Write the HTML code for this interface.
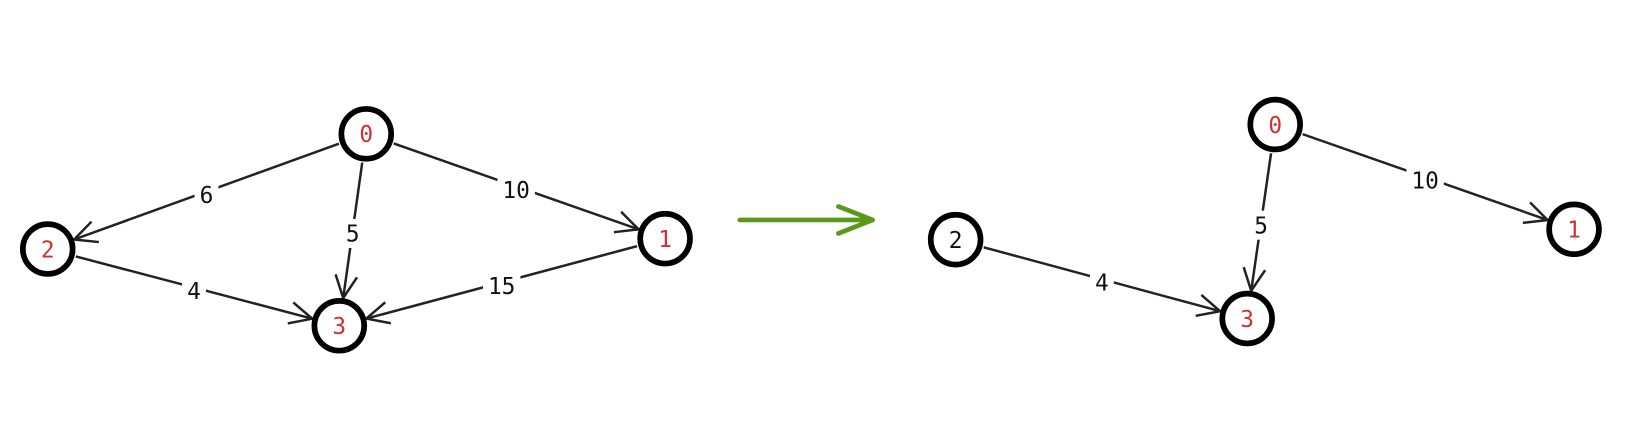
<!DOCTYPE html>
<html><head><meta charset="utf-8"><style>
html,body{margin:0;padding:0;background:#fff;}
svg{display:block;}
text{font-family:"DejaVu Sans Mono","Liberation Mono",monospace;font-size:22px;}
</style></head><body>
<svg id="chart" width="1627" height="439" viewBox="0 0 1627 439"><g id="root" transform="scale(1.0376)"></g></svg>
<script>
// Node data: id, x, y, label colour
const nodeIds = ["0","1","2","3","0","1","2","3"];
const nodeX = [353,641,46,327,1229,1517,921,1202];
const nodeY = [129,230,240,314,120,221,231,307];
const nodeColor = ["#d32f2f","#d32f2f","#d32f2f","#d32f2f","#d32f2f","#d32f2f","#111","#d32f2f"];
// Edge data: from index, to index, weight
const edgeFrom = [0,0,0,2,1,4,4,6];
const edgeTo   = [2,3,1,3,3,7,5,7];
const edgeWeight = ["6","5","10","4","15","5","10","4"];

const svg = document.getElementById('root');
const NS = 'http://www.w3.org/2000/svg';
function mk(tag, attrs){const e=document.createElementNS(NS,tag);for(const k in attrs)e.setAttribute(k,attrs[k]);svg.appendChild(e);return e;}
const R = 24;

for(let i=0;i<edgeFrom.length;i++){
  const a=edgeFrom[i], b=edgeTo[i];
  const x1=nodeX[a],y1=nodeY[a],x2=nodeX[b],y2=nodeY[b];
  const dx=x2-x1,dy=y2-y1,L=Math.hypot(dx,dy),ux=dx/L,uy=dy/L;
  const sx=x1+ux*(R+4),sy=y1+uy*(R+4),ex=x2-ux*(R+3),ey=y2-uy*(R+3);
  const line=mk('line',{x1:sx,y1:sy,x2:ex,y2:ey,stroke:'#222','stroke-width':2.4});
  
  
  const ang=Math.atan2(uy,ux), hl=24, sp=0.45;
  const p1x=ex-hl*Math.cos(ang-sp),p1y=ey-hl*Math.sin(ang-sp);
  const p2x=ex-hl*Math.cos(ang+sp),p2y=ey-hl*Math.sin(ang+sp);
  const head=mk('path',{d:`M${p1x},${p1y} L${ex},${ey} L${p2x},${p2y}`,fill:'none',stroke:'#222','stroke-width':2.4});
  
  
  const mx=(sx+ex)/2, my=(sy+ey)/2+3;
  const w=edgeWeight[i].length*13+10;
  const bg=mk('rect',{x:mx-w/2,y:my-14,width:w,height:28,fill:'#fff'});
  
  
  const t=mk('text',{x:mx,y:my+8,'text-anchor':'middle',fill:'#111'});
  t.textContent=edgeWeight[i];
  
  
}
for(let i=0;i<nodeIds.length;i++){
  const c=mk('circle',{cx:nodeX[i],cy:nodeY[i],r:R,fill:'#fff',stroke:'#000','stroke-width':5.5});
  
  
  const t=mk('text',{x:nodeX[i],y:nodeY[i]+8,'text-anchor':'middle',fill:nodeColor[i]});
  t.textContent=nodeIds[i];
  
  
}
const ar=mk('path',{d:'M713,212 L841,212 M808,199 L841,212 L808,225',fill:'none',stroke:'#5a9a1a','stroke-width':4.5,'stroke-linecap':'round','stroke-linejoin':'round'});


</script>
</body></html>
